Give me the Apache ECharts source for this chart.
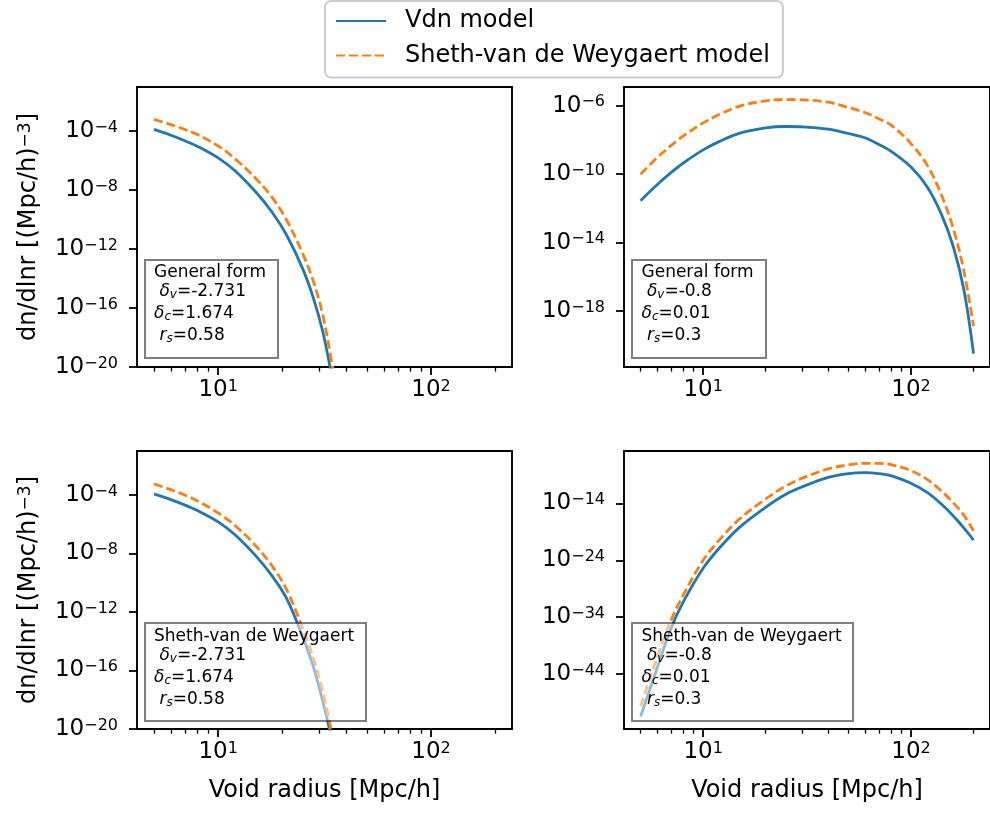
<!DOCTYPE html>
<html><head><meta charset="utf-8">
<style>html,body{margin:0;padding:0;background:#fff;} #c{width:990px;height:814px;}</style>
<script src="https://cdn.jsdelivr.net/npm/echarts@6/dist/echarts.min.js"></script>
</head><body><div id="c"></div>
<script>
// ---------- data (log10 of dn/dlnr) ----------
const radiusLeft  = [5, 6, 7, 8, 10, 12, 15, 18, 21, 25, 28, 31, 34, 37, 40];
const vdnTL  = [-3.88, -4.27, -4.66, -5.03, -5.81, -6.68, -8.11, -9.53, -11.06, -13.36, -15.31, -17.59, -20.45, -23.4, -26.5];
const svdwTL = [-3.20, -3.55, -3.89, -4.23, -5.00, -5.87, -7.19, -8.52, -10.04, -12.32, -14.18, -16.45, -19.52, -22.5, -25.5];
const vdnBL  = [-3.93, -4.32, -4.70, -5.07, -5.84, -6.72, -8.15, -9.57, -11.09, -13.73, -15.74, -18.1, -20.6, -23.5, -26.5];
const svdwBL = [-3.25, -3.64, -4.02, -4.41, -5.23, -6.09, -7.47, -8.89, -10.49, -13.15, -15.16, -17.45, -20.1, -22.8, -25.8];

const radiusRight = [5, 6, 7, 8, 10, 12, 15, 20, 25, 30, 40, 50, 60, 70, 80, 100, 120, 140, 160, 180, 200];
const vdnTR  = [-11.55, -10.62, -9.91, -9.36, -8.58, -8.08, -7.60, -7.29, -7.21, -7.23, -7.37, -7.62, -7.87, -8.26, -8.65, -9.58, -10.76, -12.34, -14.26, -16.81, -20.5];
const svdwTR = [-10.0, -9.04, -8.33, -7.78, -7.00, -6.50, -6.02, -5.71, -5.63, -5.65, -5.79, -6.10, -6.39, -6.76, -7.12, -8.21, -9.5, -11.2, -13.2, -15.7, -18.9];
const vdnBR  = [-51.5, -43.0, -36.0, -31.4, -25.4, -21.8, -18.16, -14.66, -12.38, -11.06, -9.40, -8.73, -8.57, -8.73, -9.10, -10.44, -12.1, -14.1, -16.2, -18.35, -20.45];
const svdwBR = [-49.7, -41.2, -34.6, -30.2, -24.0, -20.35, -16.7, -13.2, -10.92, -9.54, -7.91, -7.21, -6.93, -6.93, -7.16, -8.22, -9.8, -11.8, -13.9, -16.1, -18.8];

const xRange = [4.16, 240];
const xMajorTicks = [10, 100];
const xMinorTicks = [5, 6, 7, 8, 9, 20, 30, 40, 50, 60, 70, 80, 90, 200];
const yRangeTL = [-20, -1],     yTicksTL = [-20, -16, -12, -8, -4];
const yRangeTR = [-21.28, -4.9], yTicksTR = [-18, -14, -10, -6];
const yRangeBL = [-20, -1],     yTicksBL = [-20, -16, -12, -8, -4];
const yRangeBR = [-53.7, -4.76], yTicksBR = [-44, -34, -24, -14];

const legendNames = ['Vdn model', 'Sheth-van de Weygaert model'];
const boxTitles = ['General form', 'General form', 'Sheth-van de Weygaert', 'Sheth-van de Weygaert'];
const deltaV = ['-2.731', '-0.8', '-2.731', '-0.8'];
const deltaC = ['1.674', '0.01', '1.674', '0.01'];
const rS = ['0.58', '0.3', '0.58', '0.3'];
const xTitle = 'Void radius [Mpc/h]';
// ------------------------------------------------------------------

const FONT = 'DejaVu Sans';
const BLUE = '#1f77b4', ORANGE = '#ff7f0e';
const pow10 = e => Math.pow(10, e);
const supFmt = v => { const e = Math.round(Math.log10(v)); return '{b|10}{s|' + (e < 0 ? '\u2212' : '') + Math.abs(e) + '}'; };
const labelRich = { b: { fontSize: 23, fontFamily: FONT, color: '#000' }, s: { fontSize: 16, fontFamily: FONT, color: '#000', verticalAlign: 'top' } };

const grids = [
  { left: 137, top: 87, width: 375, height: 280 },
  { left: 624, top: 87, width: 374, height: 280 },
  { left: 137, top: 451, width: 375, height: 278 },
  { left: 624, top: 451, width: 374, height: 278 }
].map(g => Object.assign(g, { show: true, borderColor: '#000', borderWidth: 1.9, backgroundColor: 'transparent' }));

const yRanges = [yRangeTL, yRangeTR, yRangeBL, yRangeBR];
const yTicks = [yTicksTL, yTicksTR, yTicksBL, yTicksBR];

const xAxes = [], yAxes = [];
for (let g = 0; g < 4; g++) {
  const bottom = g >= 2;
  xAxes.push({
    type: 'log', logBase: 10, gridIndex: g, position: 'bottom', min: xRange[0], max: xRange[1],
    axisLine: { show: false }, splitLine: { show: false },
    axisTick: { show: true, length: 8, lineStyle: { color: '#000', width: 1.8 }, customValues: xMajorTicks },
    axisLabel: { customValues: xMajorTicks, formatter: supFmt, rich: labelRich, margin: 12 },
    name: bottom ? xTitle : '', nameLocation: 'middle', nameGap: 50,
    nameTextStyle: { fontSize: 24, fontFamily: FONT, color: '#000' }
  });
  xAxes.push({
    type: 'log', logBase: 10, gridIndex: g, position: 'bottom', min: xRange[0], max: xRange[1],
    axisLine: { show: false }, splitLine: { show: false }, axisLabel: { show: false },
    axisTick: { show: true, length: 4.6, lineStyle: { color: '#000', width: 1.3 }, customValues: xMinorTicks }
  });
  const tv = yTicks[g].map(pow10);
  yAxes.push({
    type: 'log', logBase: 10, gridIndex: g, min: pow10(yRanges[g][0]), max: pow10(yRanges[g][1]),
    axisLine: { show: false }, splitLine: { show: false },
    axisTick: { show: true, length: 8, lineStyle: { color: '#000', width: 1.8 }, customValues: tv },
    axisLabel: { customValues: tv, formatter: supFmt, rich: labelRich, margin: 19 },
    name: (g % 2 === 0) ? 'dn/dlnr [(Mpc/h){s|\u22123}]' : '', nameLocation: 'middle', nameRotate: 90, nameGap: 96,
    nameTextStyle: { fontSize: 24, fontFamily: FONT, color: '#000', rich: { s: { fontSize: 17, fontFamily: FONT, color: '#000', verticalAlign: 'top' } } }
  });
}

const panels = [
  [radiusLeft, vdnTL, svdwTL], [radiusRight, vdnTR, svdwTR],
  [radiusLeft, vdnBL, svdwBL], [radiusRight, vdnBR, svdwBR]
];
const series = [];
panels.forEach((p, g) => {
  const [xs, a, b] = p;
  series.push({
    name: legendNames[0], type: 'line', xAxisIndex: 2 * g, yAxisIndex: g,
    data: xs.map((x, i) => [x, pow10(a[i])]), symbol: 'none', smooth: 0.35,
    lineStyle: { color: BLUE, width: 2.8 }, itemStyle: { color: BLUE }, z: 3
  });
  series.push({
    name: legendNames[1], type: 'line', xAxisIndex: 2 * g, yAxisIndex: g,
    data: xs.map((x, i) => [x, pow10(b[i])]), symbol: 'none', smooth: 0.35,
    lineStyle: { color: ORANGE, width: 2.8, type: [9, 4] }, itemStyle: { color: ORANGE }, z: 4
  });
});

// annotation boxes (axes-relative placement, in pixels)
const boxes = [
  { x: 145, y: 260, w: 133, h: 98, tx: 154, ty: [273, 292, 314, 336] },
  { x: 632, y: 260, w: 134, h: 98, tx: 641.5, ty: [273, 292, 314, 336] },
  { x: 145, y: 623, w: 221, h: 98, tx: 154, ty: [637, 656, 678, 700] },
  { x: 632, y: 623, w: 221, h: 98, tx: 641.5, ty: [637, 656, 678, 700] }
];
const annRich = {
  n: { font: '17px "DejaVu Sans"', fill: '#000' },
  i: { font: 'italic 17px "DejaVu Sans"', fill: '#000' },
  sub: { font: 'italic 12px "DejaVu Sans"', fill: '#000', verticalAlign: 'bottom', padding: [6, 0, 0, 0] }
};
const graphic = [];
boxes.forEach((bx, k) => {
  graphic.push({ type: 'rect', z: 100, shape: { x: bx.x, y: bx.y, width: bx.w, height: bx.h },
    style: { fill: 'rgba(255,255,255,0.5)', stroke: 'rgba(0,0,0,0.5)', lineWidth: 2 } });
  const lines = [
    '{n|' + boxTitles[k] + '}',
    '{n| }{i|\u03b4}{sub|v}{n|=' + deltaV[k] + '}',
    '{i|\u03b4}{sub|c}{n|=' + deltaC[k] + '}',
    '{n| }{i|r}{sub|s}{n|=' + rS[k] + '}'
  ];
  lines.forEach((t, j) => {
    graphic.push({ type: 'text', z: 101, x: bx.tx, y: bx.ty[j],
      style: { text: t, font: '17px "DejaVu Sans"', fill: '#000', align: 'left', verticalAlign: 'middle', rich: annRich } });
  });
});

const chart = echarts.init(document.getElementById('c'), null, { renderer: 'canvas' });
chart.setOption({
  animation: false,
  backgroundColor: '#fff',
  legend: {
    data: legendNames, left: 325, top: 1, orient: 'vertical', selectedMode: false,
    itemWidth: 50, itemHeight: 14, itemGap: 4.5, padding: [5, 13, 7, 10],
    itemStyle: { opacity: 0 },
    backgroundColor: '#fff', borderColor: '#cccccc', borderWidth: 2, borderRadius: 6,
    textStyle: { fontSize: 24, fontFamily: FONT, color: '#000', lineHeight: 30, padding: [0, 0, 0, 14] }
  },
  grid: grids, xAxis: xAxes, yAxis: yAxes, series: series, graphic: graphic
});
</script></body></html>
